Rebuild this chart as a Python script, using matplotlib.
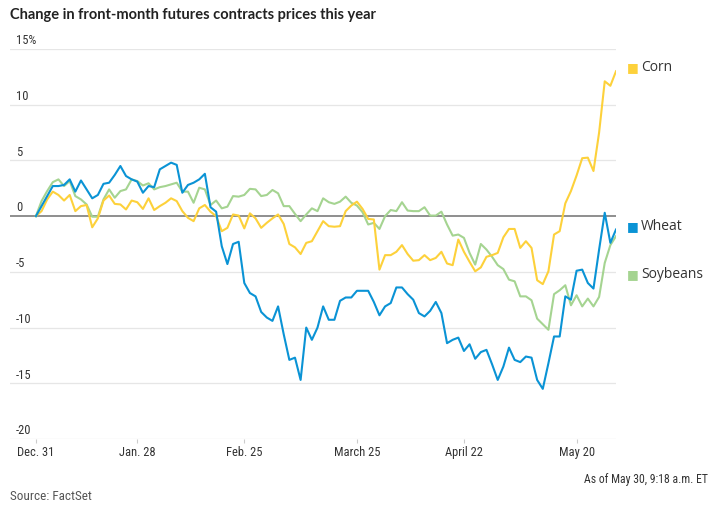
import matplotlib
matplotlib.use("Agg")
import matplotlib.pyplot as plt

# Percent change since Dec. 31, one value per trading day (index 0 = Dec. 31)
corn = [0, 0.45, 1.5, 2.2, 1.9, 1.4, 1.9, 0.45, 0.9, 1.0,
        -1.0, -0.2, 1.4, 1.85, 1.1, 1.05, 0.6, 1.4, 1.25, 0.65,
        1.6, 0.55, 0.9, 1.2, 1.6, 1.35, 0.45, -0.15, -0.45, 0.7,
        1.0, 0.4, 0.0, -1.35, -1.05, 0.15, 0.05, -1.1, 0.25, -0.2,
        -1.05, -0.6, -0.2, 0.15, -0.7, -2.5, -2.8, -3.4, -2.4, -2.25,
        -1.35, -0.45, -0.9, -0.95, -0.9, 0.45, 0.95, 1.3, 0.65, -0.25,
        -0.3, -4.8, -3.5, -3.5, -3.2, -2.6, -3.4, -4.0, -3.95, -3.5,
        -3.95, -3.75, -3.2, -4.25, -4.4, -2.1, -3.2, -4.1, -4.95, -4.6,
        -3.65, -3.5, -3.3, -1.9, -1.15, -1.15, -2.85, -2.25, -2.85, -5.75,
        -6.1, -4.95, -1.65, -1.35, 1.15, 2.25, 3.65, 5.2, 5.25, 4.05,
        7.5, 12.1, 11.7, 13.0]

wheat = [0, 0.9, 1.8, 2.7, 2.7, 2.8, 3.3, 2.2, 3.2, 2.4,
         1.6, 1.9, 2.9, 3.0, 3.7, 4.5, 3.6, 3.3, 3.1, 2.1,
         2.7, 2.6, 4.2, 4.5, 4.8, 4.6, 2.1, 2.8, 3.0, 3.3,
         3.8, 0.8, 0.4, -2.7, -4.3, -2.5, -2.3, -6.0, -6.9, -7.2,
         -8.6, -9.1, -9.4, -8.1, -10.6, -12.9, -12.7, -14.7, -10.0, -11.1,
         -10.0, -8.1, -9.3, -9.3, -7.6, -7.3, -7.3, -6.7, -6.7, -6.7,
         -7.7, -8.9, -8.1, -7.8, -6.4, -6.4, -7.0, -7.5, -8.7, -9.0,
         -8.5, -7.7, -8.7, -11.4, -11.1, -10.9, -12.1, -11.5, -12.8, -12.2,
         -12.0, -13.3, -14.7, -13.5, -11.8, -12.9, -13.1, -12.6, -12.7, -14.7,
         -15.5, -13.2, -10.8, -10.8, -7.2, -7.5, -4.9, -4.8, -6.0, -6.5,
         -3.0, 0.3, -2.4, -1.2]

soybeans = [0, 1.35, 2.25, 3.05, 3.3, 2.7, 3.15, 1.8, 1.5, 1.05,
            -0.05, -0.05, 1.5, 2.4, 1.65, 2.25, 2.4, 3.3, 3.15, 2.75,
            2.95, 2.4, 2.6, 2.7, 2.85, 3.0, 2.2, 2.2, 1.2, 2.55,
            2.4, 1.0, 1.4, 0.7, 0.85, 1.8, 1.75, 1.9, 2.45, 2.4,
            1.8, 1.9, 2.35, 2.05, 0.9, 0.9, 0.2, -0.45, 0.15, 0.7,
            0.45, 1.6, 1.25, 1.1, 1.3, 1.75, 1.2, 0.95, 0.35, -0.75,
            -0.6, -1.15, 0.0, 0.55, 0.45, 1.25, 0.5, 0.45, 0.45, 0.8,
            0.05, 0.05, 0.4, -0.75, -1.75, -1.65, -1.95, -3.3, -4.35, -2.5,
            -3.0, -3.65, -4.4, -4.75, -5.7, -5.85, -7.2, -7.2, -7.55, -9.2,
            -9.7, -10.2, -7.0, -6.65, -6.2, -8.0, -7.1, -8.1, -7.4, -8.1,
            -7.25, -4.2, -2.6, -1.8]

tick_pos = [0, 18, 37, 57, 76, 96]
tick_labels = ["Dec. 31", "Jan. 28", "Feb. 25", "March 25", "April 22", "May 20"]
y_ticks = [15, 10, 5, 0, -5, -10, -15, -20]
y_labels = ["15%", "10", "5", "0", "-5", "-10", "-15", "-20"]

names = ["Corn", "Wheat", "Soybeans"]
colors = {"Corn": "#fdd13b", "Wheat": "#0a93d5", "Soybeans": "#a5d491"}
label_y = {"Corn": 13.3, "Wheat": -0.9, "Soybeans": -5.2}

narrow = ["Roboto Condensed", "DejaVu Sans"]

fig = plt.figure(figsize=(7.28, 5.21), dpi=100)
ax = fig.add_axes([10 / 728, 1 - 439 / 521, 606 / 728, 390 / 521])

x = list(range(len(corn)))
ax.plot(x, soybeans, color=colors["Soybeans"], lw=1.5, zorder=3)
ax.plot(x, corn, color=colors["Corn"], lw=1.5, zorder=4)
ax.plot(x, wheat, color=colors["Wheat"], lw=1.5, zorder=5)

ax.set_xlim(-4.6, 103)
ax.set_ylim(-20, 15)

for v, lab in zip(y_ticks, y_labels):
    if v == 0:
        ax.axhline(v, color="#707070", lw=1.1, zorder=2)
    else:
        ax.axhline(v, color="#e6e6e6", lw=0.9, zorder=1)
    ax.text(0.01, v + 0.15, lab, transform=ax.get_yaxis_transform(),
            ha="left", va="bottom", fontsize=9, color="#333333", family=narrow)

ax.set_yticks([])
ax.set_xticks(tick_pos)
ax.set_xticklabels(tick_labels, family=narrow, fontsize=9, color="#333333")
ax.tick_params(axis="x", length=3, color="#cccccc", pad=2)
for s in ax.spines.values():
    s.set_visible(False)

# legend squares at the right edge
for n in names:
    ax.text(1.018, label_y[n], "\u25a0", transform=ax.get_yaxis_transform(),
            color=colors[n], fontsize=9, va="center", ha="left", family="DejaVu Sans")
    ax.text(1.041, label_y[n], n, transform=ax.get_yaxis_transform(),
            color="#333333", fontsize=10, va="center", ha="left", family="Open Sans")

fig.text(10 / 728, 1 - 15 / 521, "Change in front-month futures contracts prices this year",
         fontsize=10.5, fontweight="bold", family="Lato", color="#222222", va="center")
fig.text(708 / 728, 1 - 480 / 521, "As of May 30, 9:18 a.m. ET", ha="right", va="center",
         fontsize=8.5, family=narrow, color="#333333")
fig.text(10 / 728, 1 - 497 / 521, "Source: FactSet", ha="left", va="center",
         fontsize=9.5, family=narrow, color="#555555")

fig.savefig("out.png", dpi=100)
